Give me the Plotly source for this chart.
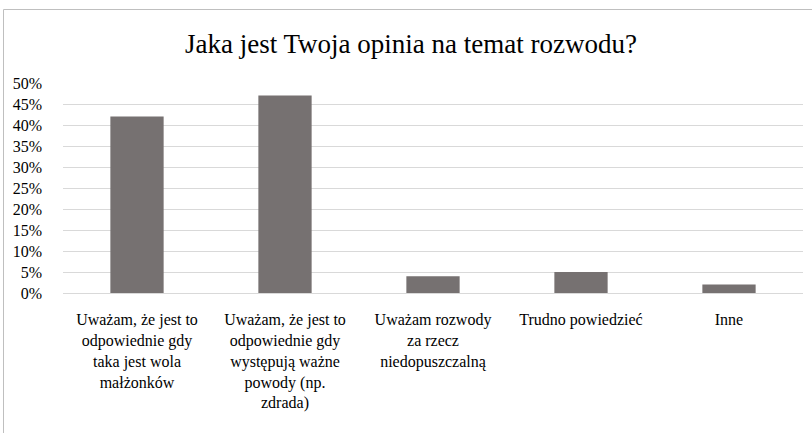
import plotly.graph_objects as go

categories = [
    "Uważam, że jest to<br>odpowiednie gdy<br>taka jest wola<br>małżonków",
    "Uważam, że jest to<br>odpowiednie gdy<br>występują ważne<br>powody (np.<br>zdrada)",
    "Uważam rozwody<br>za rzecz<br>niedopuszczalną",
    "Trudno powiedzieć",
    "Inne",
]
values = [0.42, 0.47, 0.04, 0.05, 0.02]
tick_vals = [0, 0.05, 0.10, 0.15, 0.20, 0.25, 0.30, 0.35, 0.40, 0.45, 0.50]
tick_text = ["0%", "5%", "10%", "15%", "20%", "25%", "30%", "35%", "40%", "45%", "50%"]
title_text = "Jaka jest Twoja opinia na temat rozwodu?"

FONT = "Liberation Serif, Times New Roman, serif"

fig = go.Figure(
    go.Bar(
        x=categories,
        y=values,
        marker=dict(color="#767171", line=dict(width=0)),
        hoverinfo="skip",
    )
)

L, R, T, B = 63, 9, 83, 140
W, H = 812, 433
pw = W - L - R
ph = H - T - B

fig.update_layout(
    width=W,
    height=H,
    margin=dict(l=L, r=R, t=T, b=B, pad=0),
    paper_bgcolor="white",
    plot_bgcolor="white",
    bargap=0.64,
    showlegend=False,
    font=dict(family=FONT, color="#000000"),
    title=dict(
        text=title_text,
        font=dict(family=FONT, size=27, color="#000000"),
        x=(411 - L) / pw,
        xref="paper",
        xanchor="center",
        y=1 - 44 / H,
        yref="container",
        yanchor="middle",
    ),
    xaxis=dict(
        showgrid=False,
        showline=True,
        linecolor="#d9d9d9",
        linewidth=1,
        ticks="",
        ticklabelstandoff=12,
        tickfont=dict(family=FONT, size=16, color="#000000"),
        tickangle=0,
        fixedrange=True,
    ),
    yaxis=dict(
        range=[0, 0.5],
        tickvals=tick_vals,
        ticktext=tick_text,
        showgrid=True,
        gridcolor="#d9d9d9",
        gridwidth=1,
        zeroline=False,
        showline=False,
        ticks="",
        ticklabelstandoff=20,
        tickfont=dict(family=FONT, size=16, color="#000000"),
        fixedrange=True,
    ),
    shapes=[
        dict(
            type="rect",
            xref="paper",
            yref="paper",
            x0=(3.5 - L) / pw,
            x1=(W + 20 - L) / pw,
            y0=-(H + 20 - (T + ph)) / ph,
            y1=1 + (T - 9.5) / ph,
            line=dict(color="#bfbfbf", width=1),
            fillcolor="rgba(0,0,0,0)",
            layer="below",
        )
    ],
)

fig.write_html(
    "out.html",
    config={"displayModeBar": False},
    post_script="document.body.style.margin='0';document.body.style.overflow='hidden';",
)
